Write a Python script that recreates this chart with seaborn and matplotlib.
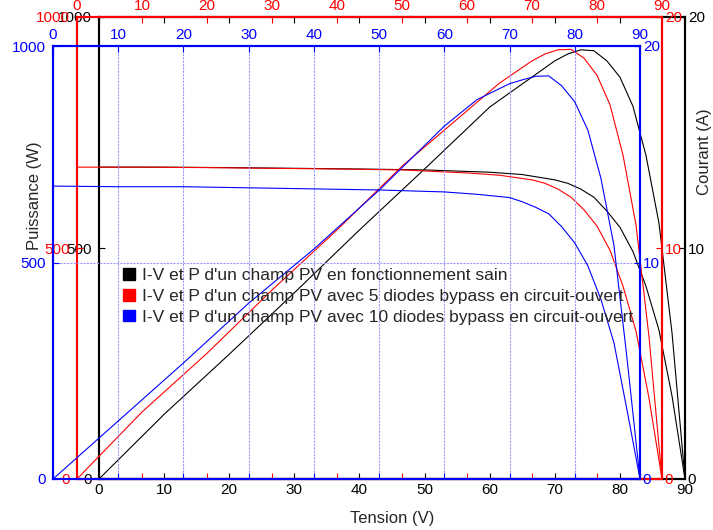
import matplotlib
matplotlib.use("Agg")
import matplotlib.pyplot as plt
import matplotlib.patches as mpatches
import seaborn as sns

# voltage samples (V), shared by the three fields
tension = [0, 10, 20, 30, 40, 50, 60, 65, 70, 72, 74, 76, 78, 80, 82, 84, 86, 88, 90]

# healthy field
p_sain = [0, 140, 270, 403, 539, 671, 805, 855, 905, 920, 929, 927, 905, 870, 807, 701, 554, 317, 0]
i_sain = [13.5, 13.5, 13.48, 13.45, 13.42, 13.38, 13.28, 13.18, 12.95, 12.8, 12.55, 12.2, 11.6,
          10.9, 9.85, 8.35, 6.45, 3.6, 0]

# 5 bypass diodes open
p_5d = [0, 145, 272, 409, 539, 677, 797, 857, 905, 920, 929, 930, 911, 874, 810, 701, 550, 308, 0]
i_5d = [13.5, 13.5, 13.48, 13.45, 13.42, 13.38, 13.25, 13.15, 12.95, 12.8, 12.55, 12.2, 11.65,
        10.95, 9.9, 8.35, 6.4, 3.5, 0]

# 10 bypass diodes open
p_10d = [0, 134, 268, 406, 531, 667, 815, 876, 913, 922, 930, 931, 908, 871, 806, 695, 540, 280, 0]
i_10d = [13.53, 13.5, 13.5, 13.45, 13.4, 13.35, 13.26, 13.15, 13.0, 12.8, 12.55, 12.25, 11.65,
         10.9, 9.85, 8.3, 6.3, 3.2, 0]

labels = ["I-V et P d'un champ PV en fonctionnement sain",
          "I-V et P d'un champ PV avec 5 diodes bypass en circuit-ouvert",
          "I-V et P d'un champ PV avec 10 diodes bypass en circuit-ouvert"]

sns.set_style("white")
plt.rcParams['font.family'] = ['Liberation Sans', 'DejaVu Sans']

W, H = 713, 530
fig = plt.figure(figsize=(W / 100, H / 100), dpi=100)
fig.patch.set_facecolor('white')


def rect(l, r, t, b):
    return [l / W, 1 - b / H, (r - l) / W, (b - t) / H]


def make_axes(box, color, top_labels, grid=False):
    ax = fig.add_axes(box)
    ax.set_facecolor('none')
    ax2 = ax.twinx()
    ax2.set_facecolor('none')
    for a in (ax, ax2):
        for s in a.spines.values():
            s.set_color(color)
            s.set_linewidth(1.5)
    ax.set_xlim(0, 90)
    ax.set_ylim(0, 1000)
    ax2.set_ylim(0, 20)
    ax.set_xticks(range(0, 91, 10))
    ax.set_yticks([0, 500, 1000])
    ax2.set_yticks([0, 10, 20])
    ax.tick_params(axis='x', colors=color, direction='in', length=4, width=0.8,
                   top=True, bottom=True, labeltop=top_labels, labelbottom=not top_labels,
                   labelsize=11, pad=3)
    ax.tick_params(axis='y', colors=color, direction='in', length=4, width=0.8,
                   labelsize=11, pad=5)
    ax2.tick_params(axis='y', colors=color, direction='in', length=4, width=0.8,
                    labelsize=11, pad=2)
    if grid:
        ax.grid(True, color='#9a9aff', linestyle=(0, (2, 1)), linewidth=0.8)
    return ax, ax2


ax_k, ax_k2 = make_axes(rect(99, 685, 17, 479), 'black', top_labels=False)
ax_r, ax_r2 = make_axes(rect(77, 662, 17, 479), 'red', top_labels=True)
ax_b, ax_b2 = make_axes(rect(53, 640, 46, 479), 'blue', top_labels=True, grid=True)

for ax, ax2, p, i, c in [(ax_k, ax_k2, p_sain, i_sain, 'black'),
                         (ax_r, ax_r2, p_5d, i_5d, 'red'),
                         (ax_b, ax_b2, p_10d, i_10d, 'blue')]:
    sns.lineplot(x=tension, y=p, ax=ax, color=c, linewidth=0.8, legend=False)
    sns.lineplot(x=tension, y=i, ax=ax2, color=c, linewidth=0.8, legend=False)
    for a in (ax, ax2):
        a.set_xlabel('')
        a.set_ylabel('')

fig.text(35 / W, 1 - 196 / H, 'Puissance (W)', rotation=90, ha='center', va='center', fontsize=12)
fig.text(705 / W, 1 - 152 / H, 'Courant (A)', rotation=90, ha='center', va='center', fontsize=12)
fig.text(392 / W, 1 - 518 / H, 'Tension (V)', ha='center', va='center', fontsize=12)

handles = [mpatches.Patch(facecolor=c, edgecolor=c) for c in ('black', 'red', 'blue')]
fig.legend(handles, labels, loc='upper left', bbox_to_anchor=(123 / W, 1 - 268 / H),
           frameon=False, fontsize=12.5, handlelength=0.68, handleheight=0.68,
           handletextpad=0.4, labelspacing=0.33, borderpad=0, borderaxespad=0)

fig.savefig('out.png', dpi=100)
